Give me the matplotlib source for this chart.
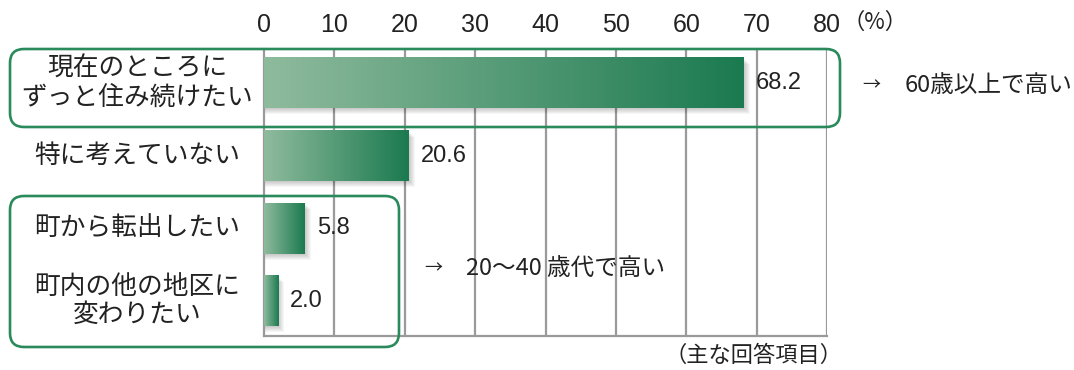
import matplotlib
matplotlib.use('Agg')
import matplotlib.pyplot as plt
import numpy as np
from matplotlib.colors import LinearSegmentedColormap
from matplotlib.patches import FancyBboxPatch, Rectangle
from matplotlib.transforms import IdentityTransform

plt.rcParams['font.family'] = ['Noto Sans CJK JP', 'DejaVu Sans']

labels = ['現在のところに\nずっと住み続けたい', '特に考えていない', '町から転出したい', '町内の他の地区に\n変わりたい']
values = [68.2, 20.6, 5.8, 2.0]
ticks = [0, 10, 20, 30, 40, 50, 60, 70, 80]

W, H = 1074, 370
fig = plt.figure(figsize=(W / 100, H / 100), dpi=100)
ax = fig.add_axes([264 / W, 1 - 336 / H, 563 / W, 287 / H])

green = LinearSegmentedColormap.from_list('g', ['#8fbb9d', '#1b7a50'])
grad = np.linspace(0, 1, 256).reshape(1, -1)
bar_h = 0.69
px_x = 80 / 563
px_y = 1 / 72.6

for i, v in enumerate(values):
    # soft shadow to the lower right
    for k in range(1, 7):
        ax.add_patch(Rectangle((0, i - bar_h / 2 + k * px_y), v + k * px_x, bar_h,
                               facecolor='#000000', alpha=0.035, lw=0, zorder=2))
    ax.imshow(grad, extent=[0, v, i + bar_h / 2, i - bar_h / 2], cmap=green,
              aspect='auto', zorder=3, interpolation='bicubic')
    ax.text(v + 12 * px_x, i, f'{v:.1f}', va='center', ha='left', fontsize=17,
            family=['Liberation Sans'], color='#222222', zorder=4)
    ax.text((137 - 264) / 563, i, labels[i], transform=ax.get_yaxis_transform(),
            ha='center', va='center', multialignment='center', fontsize=18.5,
            linespacing=1.12, color='#222222')

ax.set_xlim(0, 80)
ax.set_ylim(3.48, -0.47)
ax.set_yticks([])
ax.set_xticks(ticks)
ax.xaxis.tick_top()
ax.tick_params(axis='x', length=0, pad=9, labelsize=18, colors='#222222')
for lab in ax.get_xticklabels():
    lab.set_family(['Liberation Sans'])
for t in ticks[1:]:
    ax.axvline(t, color='#9a9a9c', lw=1.6, zorder=1)
for s in ['top', 'right']:
    ax.spines[s].set_visible(False)
for s in ['left', 'bottom']:
    ax.spines[s].set_color('#9a9a9c')
    ax.spines[s].set_linewidth(1.6)

# rounded frames around grouped answers
frame = dict(boxstyle='round,pad=0,rounding_size=14', facecolor='none',
             edgecolor='#2a8a5c', lw=1.9, transform=IdentityTransform(), zorder=10)
fig.patches.append(FancyBboxPatch((10, H - 127), 830, 78, **frame))
fig.patches.append(FancyBboxPatch((10, H - 347), 389, 151, **frame))

fig.text(843 / W, 1 - 22 / H, '（%）', fontsize=16, va='center', ha='left', color='#222222')
fig.text(862 / W, 1 - 85 / H, '→', fontsize=13, va='center', ha='left', color='#222222')
fig.text(905 / W, 1 - 85 / H, '60歳以上で高い', fontsize=17, va='center', ha='left', color='#222222')
fig.text(424 / W, 1 - 268 / H, '→', fontsize=13, va='center', ha='left', color='#222222')
fig.text(466 / W, 1 - 268 / H, '20～40 歳代で高い', fontsize=17, va='center', ha='left', color='#222222')
fig.text(842 / W, 1 - 355 / H, '（主な回答項目）', fontsize=16, va='center', ha='right', color='#222222')

fig.savefig('out.png', dpi=100)
